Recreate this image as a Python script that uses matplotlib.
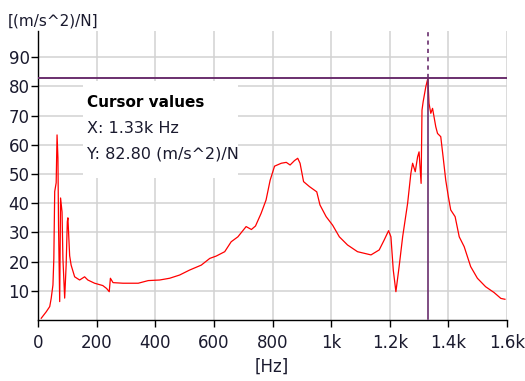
import matplotlib
matplotlib.use("Agg")
import matplotlib.pyplot as plt
from matplotlib.patches import Rectangle
from matplotlib.ticker import FixedLocator, FixedFormatter

freq = [11, 28, 40, 45, 51, 54, 57, 62, 65, 68, 70, 74, 77, 82, 85, 91, 96, 100, 102,
        108, 113, 125, 142, 159, 170, 193, 221, 234, 243, 247, 256, 290, 342, 376, 415,
        449, 483, 517, 557, 586, 608, 637, 659, 682, 710, 728, 742, 761, 778, 792, 807,
        830, 847, 860, 875, 886, 894, 906, 926, 951, 962, 983, 1005, 1028, 1056, 1090,
        1136, 1164, 1181, 1196, 1204, 1212, 1221, 1232, 1244, 1261, 1272, 1278, 1287,
        1295, 1300, 1307, 1310, 1314, 1323, 1330, 1334, 1340, 1346, 1357, 1363, 1374,
        1382, 1391, 1400, 1408, 1423, 1437, 1454, 1476, 1499, 1527, 1556, 1579, 1593]
accel = [0.6, 2.8, 4.6, 7.4, 12.0, 21.0, 44.0, 47.0, 63.4, 55.5, 32.5, 6.3, 41.8, 37.0,
         21.0, 7.5, 18.8, 33.7, 35.0, 22.0, 18.8, 14.8, 13.7, 14.8, 13.7, 12.6, 11.8,
         10.8, 9.7, 14.3, 12.8, 12.6, 12.6, 13.5, 13.7, 14.3, 15.4, 17.1, 18.8, 21.1,
         21.9, 23.4, 26.8, 28.5, 32.0, 31.0, 32.2, 36.5, 41.1, 47.9, 52.7, 53.7, 54.0,
         53.1, 54.6, 55.4, 53.7, 47.4, 45.7, 43.9, 39.4, 35.4, 32.5, 28.5, 25.7, 23.4,
         22.3, 24.0, 27.4, 30.6, 28.5, 17.1, 9.7, 18.3, 28.5, 40.0, 50.2, 53.7, 50.8,
         55.9, 57.6, 46.8, 71.9, 74.8, 79.9, 82.8, 74.2, 70.8, 72.5, 66.2, 63.9, 62.8,
         55.9, 47.9, 42.2, 37.7, 35.4, 28.5, 25.1, 18.3, 14.3, 11.4, 9.4, 7.4, 7.1]

x_ticks = [0, 200, 400, 600, 800, 1000, 1200, 1400, 1600]
x_labels = ["0", "200", "400", "600", "800", "1k", "1.2k", "1.4k", "1.6k"]
y_ticks = [10, 20, 30, 40, 50, 60, 70, 80, 90]
y_labels = ["10", "20", "30", "40", "50", "60", "70", "80", "90"]

cursor_x = 1330
cursor_y = 82.80
cursor_title = "Cursor values"
cursor_lines = ["X: 1.33k Hz", "Y: 82.80 (m/s^2)/N"]
x_unit = "[Hz]"
y_unit = "[(m/s^2)/N]"

FONT = ["DejaVu Sans"]
TXT = "#1a1a2e"
PURPLE = "#6a2f6e"

W, H = 525, 381
fig = plt.figure(figsize=(W / 100, H / 100), dpi=100)
L, R, B, T = 38, 507, 320, 31
ax = fig.add_axes([L / W, 1 - B / H, (R - L) / W, (B - T) / H])
ax.set_xlim(0, 1600)
ax.set_ylim(0, 99)

for s in ["top", "right"]:
    ax.spines[s].set_visible(False)
for s in ["left", "bottom"]:
    ax.spines[s].set_color("black")
    ax.spines[s].set_linewidth(1.0)

ax.xaxis.set_major_locator(FixedLocator(x_ticks))
ax.xaxis.set_major_formatter(FixedFormatter(x_labels))
ax.yaxis.set_major_locator(FixedLocator(y_ticks))
ax.yaxis.set_major_formatter(FixedFormatter(y_labels))
ax.tick_params(axis="both", direction="out", length=5, width=1, color="black",
               labelcolor=TXT, labelsize=12)
ax.tick_params(axis="x", pad=5)
ax.tick_params(axis="y", pad=1)
for lab in ax.get_xticklabels() + ax.get_yticklabels():
    lab.set_fontfamily(FONT)

ax.grid(True, color="#d2d2d2", linewidth=1.1, zorder=0)
ax.set_axisbelow(True)

ax.add_patch(Rectangle((153, 48.6), 528, 33.2, facecolor="white", edgecolor="none",
                       zorder=1))

ax.plot(freq, accel, color="#ff0000", linewidth=0.9, zorder=3)

ax.axhline(cursor_y, color=PURPLE, linewidth=1.4, zorder=4)
ax.plot([cursor_x, cursor_x], [0.5, cursor_y], color=PURPLE, linewidth=1.2, zorder=4)
ax.plot([cursor_x, cursor_x], [cursor_y, 99], color=PURPLE, linewidth=1.2,
        linestyle=(0, (2.5, 2.5)), zorder=4)

ax.text(168, 74.6, cursor_title, fontsize=11, fontweight="bold", color="black",
        family=FONT, va="center", ha="left", zorder=5)
ax.text(168, 65.6, cursor_lines[0], fontsize=11.5, color=TXT, family=FONT,
        va="center", ha="left", zorder=5)
ax.text(168, 57.0, cursor_lines[1], fontsize=11.5, color=TXT, family=FONT,
        va="center", ha="left", zorder=5)

fig.text(8 / W, 1 - 21 / H, y_unit, fontsize=11, color=TXT, family=FONT,
         ha="left", va="center")
fig.text(272 / W, 1 - 367 / H, x_unit, fontsize=12, color=TXT, family=FONT,
         ha="center", va="center")

fig.savefig("out.png", dpi=100)
